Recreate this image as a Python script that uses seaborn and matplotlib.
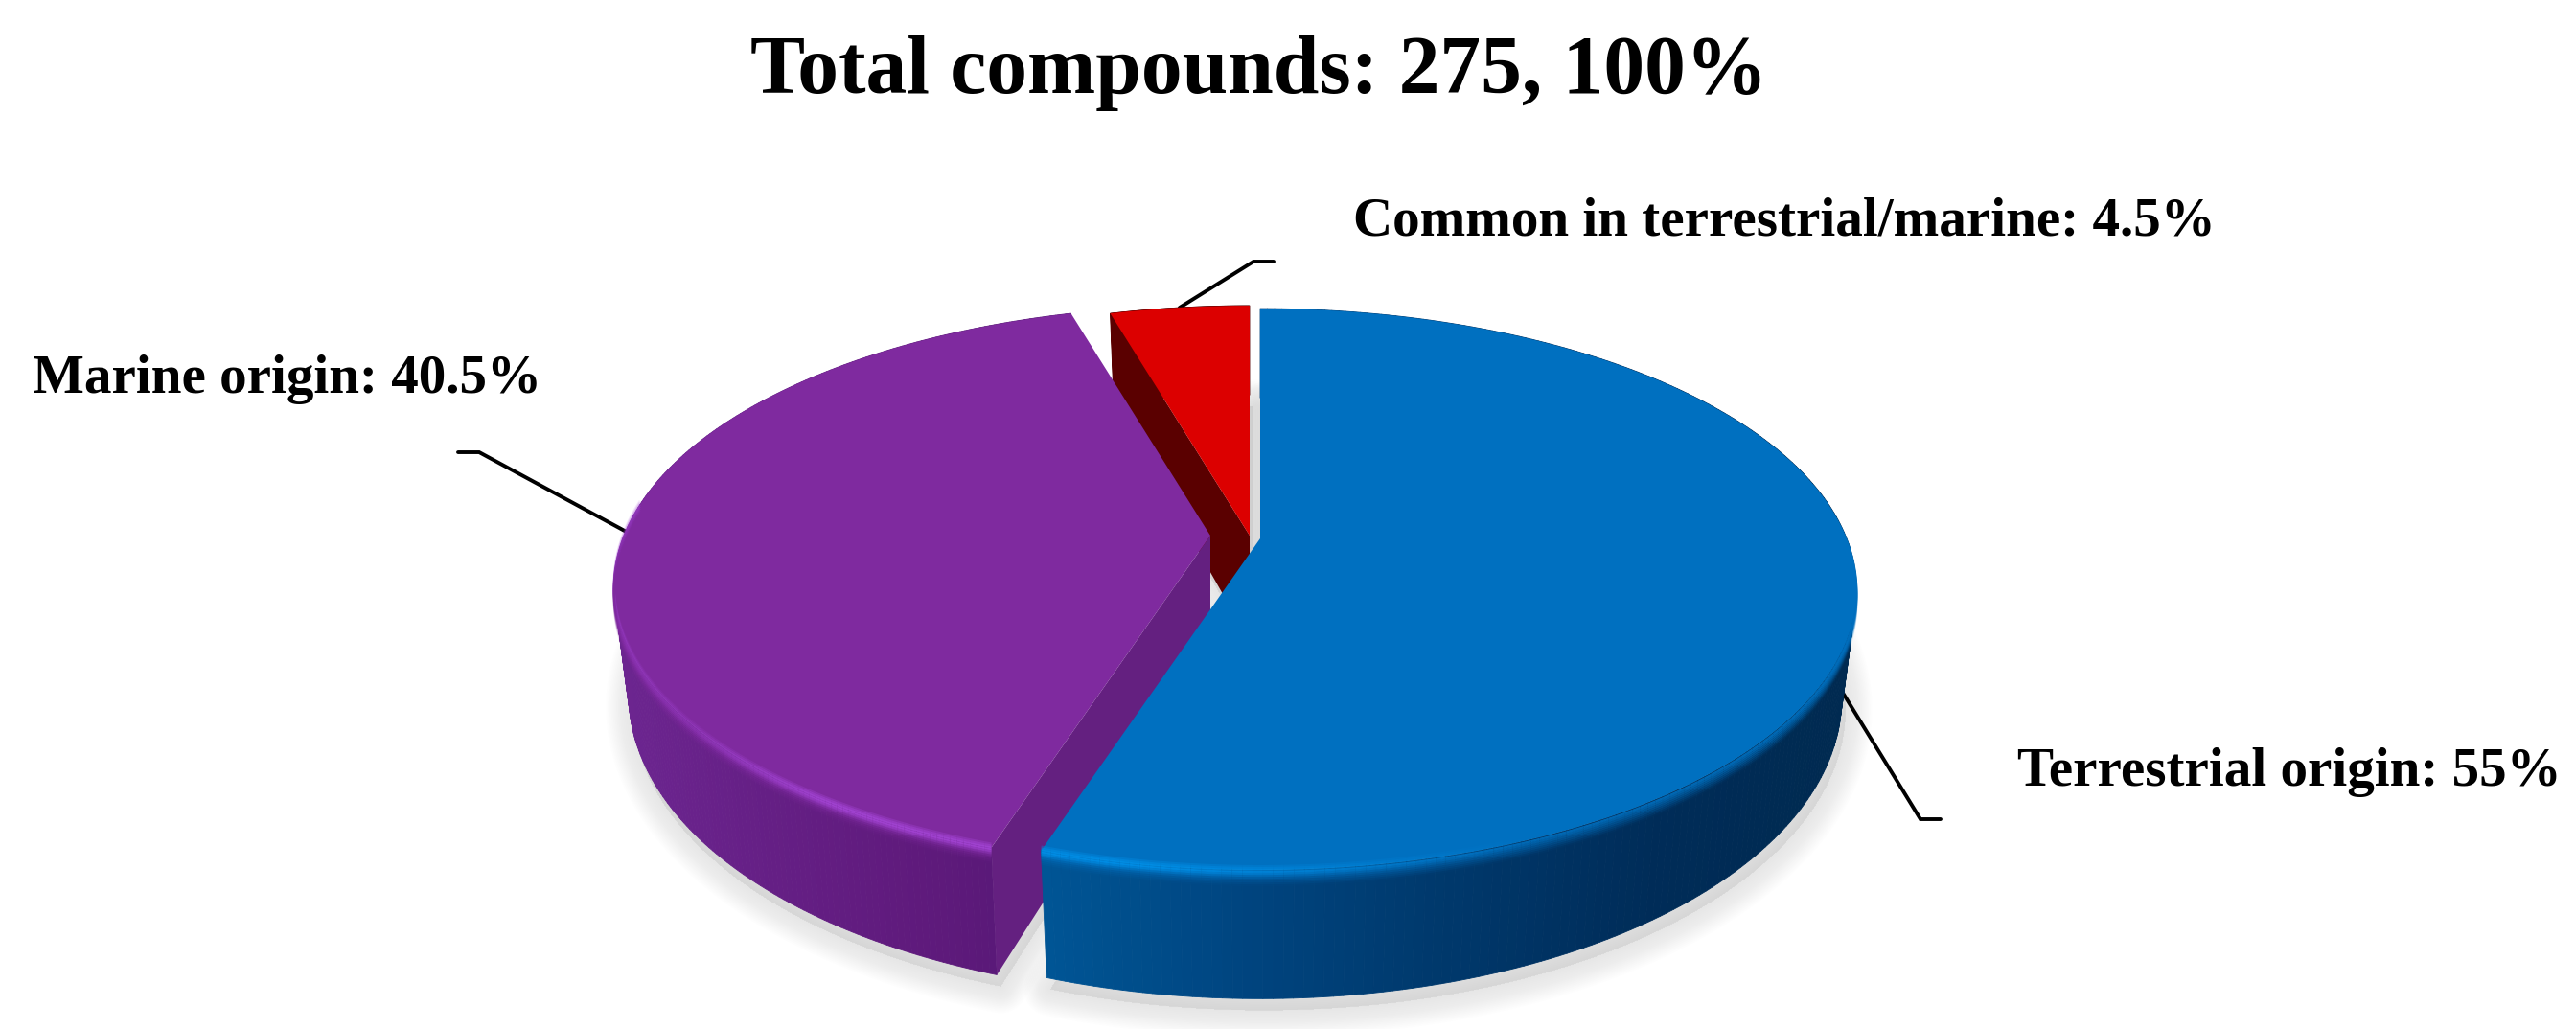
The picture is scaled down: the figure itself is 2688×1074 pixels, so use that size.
import numpy as np
import matplotlib
matplotlib.use("Agg")
import matplotlib.pyplot as plt
from matplotlib.collections import PolyCollection, LineCollection
from matplotlib.colors import to_rgb
from matplotlib.transforms import Transform
import seaborn as sns

TITLE = "Total compounds: 275, 100%"
categories = ["Terrestrial origin", "Marine origin", "Common in terrestrial/marine"]
shares = [55, 40.5, 4.5]
share_text = ["55%", "40.5%", "4.5%"]

top_colors = ["#0070C0", "#7F2A9F", "#DC0000"]
side_colors = ["#00396E", "#642080", "#5A0000"]
wall_stops = [["#005595", "#00447F", "#00386B", "#002C58", "#002A50"],
              ["#6C2590", "#651F85", "#5F1A7C", "#551875"],
              ["#5A0000", "#5A0000"]]
rim_colors = ["#0090E8", "#A445D6", "#DC0000"]
slice_z = [30, 20, 10]

# layout, in reference pixels
W, H = 2688, 1074
APEX = [(1315, 562), (1263, 559), (1304, 559)]
RX, RY, K = 612.0, 283.4, 0.181
WALL, SHRINK = 110.0, 0.975
label_pos = [(2105, 806), (34, 396), (1412, 231)]
elbows = [[(2004, 855), (2025, 855)], [(500, 472), (478, 472)], [(1308, 273), (1329, 273)]]
FONT = "Liberation Serif"


class Perspective(Transform):
    input_dims = output_dims = 2
    is_separable = False
    has_inverse = False

    def __init__(self, apex):
        super().__init__()
        self.apex = apex

    def transform_non_affine(self, xy):
        xy = np.asarray(xy, float)
        w = 1 + K * xy[:, 1]
        return np.column_stack((self.apex[0] + RX * xy[:, 0] / w,
                                self.apex[1] - RY * xy[:, 1] / w))


def top_ring(theta, apex):
    t = np.radians(theta)
    return Perspective(apex).transform_non_affine(np.column_stack((np.cos(t), np.sin(t))))


def bottom_ring(theta, apex):
    t = np.radians(theta)
    p = top_ring(theta, apex)
    w = 1 + K * np.sin(t)
    return np.column_stack((apex[0] + (p[:, 0] - apex[0]) * SHRINK, p[:, 1] + WALL / w))


sns.set_theme(style="white")
plt.rcParams["font.family"] = [FONT, "DejaVu Serif"]
fig = plt.figure(figsize=(W / 100, H / 100), dpi=100, facecolor="white")
ax = fig.add_axes([0, 0, 1, 1])

wedges, _ = ax.pie(shares, colors=top_colors, startangle=90, counterclock=False,
                   wedgeprops={"linewidth": 0})
ax.set_aspect("auto")
ax.set_xlim(0, W)
ax.set_ylim(H, 0)
ax.axis("off")

for i, wedge in enumerate(wedges):
    apex, z = APEX[i], slice_z[i]
    wedge.set_transform(Perspective(apex) + ax.transData)
    wedge.set_zorder(z + 3)
    th = np.linspace(wedge.theta1, wedge.theta2, 240)
    top, bot = top_ring(th, apex), bottom_ring(th, apex)

    # soft shadow below the slice
    outline = np.vstack(([apex[0], apex[1] + WALL], bot)) + [4, 12]
    for lw_px in np.linspace(56, 2, 16):
        ax.fill(outline[:, 0], outline[:, 1], fc="#999999", ec="#999999", alpha=0.012,
                lw=lw_px * 0.72, joinstyle="round", zorder=1)

    # curved outer wall, shaded along x
    pal = np.array(sns.blend_palette(wall_stops[i], 256))
    quads = np.stack((top[:-1], top[1:], bot[1:], bot[:-1]), axis=1)
    xm = quads[:, :, 0].mean(axis=1)
    lo, hi = xm.min(), xm.max()
    if i == 0:
        idx = np.clip((xm - 1090) / (1940 - 1090) * 255, 0, 255).astype(int)
    elif i == 1:
        idx = np.clip((xm - lo) / max(hi - lo, 1) * 255, 0, 255).astype(int)
    else:
        idx = np.zeros(len(xm), int)
    ax.add_collection(PolyCollection(quads, facecolors=pal[idx], edgecolors=pal[idx],
                                     linewidths=0.6, zorder=z + 1))

    # flat wall along the cut that faces the viewer
    cut = np.array([wedge.theta2])
    a, b = top_ring(cut, apex)[0], bottom_ring(cut, apex)[0]
    ax.fill([apex[0], a[0], b[0], apex[0]], [apex[1], a[1], b[1], apex[1] + WALL],
            fc=side_colors[i], lw=0, zorder=z + 2)

    # bevel along the front edge
    if i < 2:
        front = np.sin(np.radians(th)) < 0.12
        arc = top[front]
        soft = np.clip(-np.sin(np.radians(th[front]))[:-1] * 6 + 0.7, 0, 1)
        tc, rc = to_rgb(top_colors[i]), to_rgb(rim_colors[i])
        if i == 0:
            glow = np.clip((1600 - arc[:-1, 0]) / 400, 0, 1)
        else:
            glow = np.clip((arc[:-1, 0] - 640) / 220, 0.35, 1)
        for dy in np.arange(-4, 17, 2.0):
            segs = np.stack((arc[:-1] + [0, dy], arc[1:] + [0, dy]), axis=1)
            if dy > 0:
                a_top = soft * np.clip(1 - dy / 17, 0, 1) ** 1.2
                rgba = np.column_stack((np.tile(tc, (len(segs), 1)), a_top))
                ax.add_collection(LineCollection(segs, colors=rgba, linewidths=1.6,
                                                 capstyle="butt", zorder=z + 4))
            a_rim = glow * np.exp(-((dy - 1) / 5.0) ** 2) * 0.9
            rgba = np.column_stack((np.tile(rc, (len(segs), 1)), a_rim))
            ax.add_collection(LineCollection(segs, colors=rgba, linewidths=1.6,
                                             capstyle="butt", zorder=z + 4))

    # leader line from the middle of the slice to its label
    mid = np.array([(wedge.theta1 + wedge.theta2) / 2])
    start = (bottom_ring if i == 0 else top_ring)(mid, apex)[0]
    pts = np.vstack((start, elbows[i]))
    ax.plot(pts[:, 0], pts[:, 1], color="black", lw=2.8, solid_joinstyle="miter", zorder=2)

    ax.text(label_pos[i][0], label_pos[i][1], f"{categories[i]}: {share_text[i]}",
            fontsize=41.1, fontweight="bold", family=FONT, color="black",
            ha="left", va="center", zorder=60)

ax.text(1314, 76, TITLE, fontsize=61.6, fontweight="bold", family=FONT, color="black",
        ha="center", va="center", zorder=60)

fig.savefig("out.png", dpi=100, facecolor="white")
